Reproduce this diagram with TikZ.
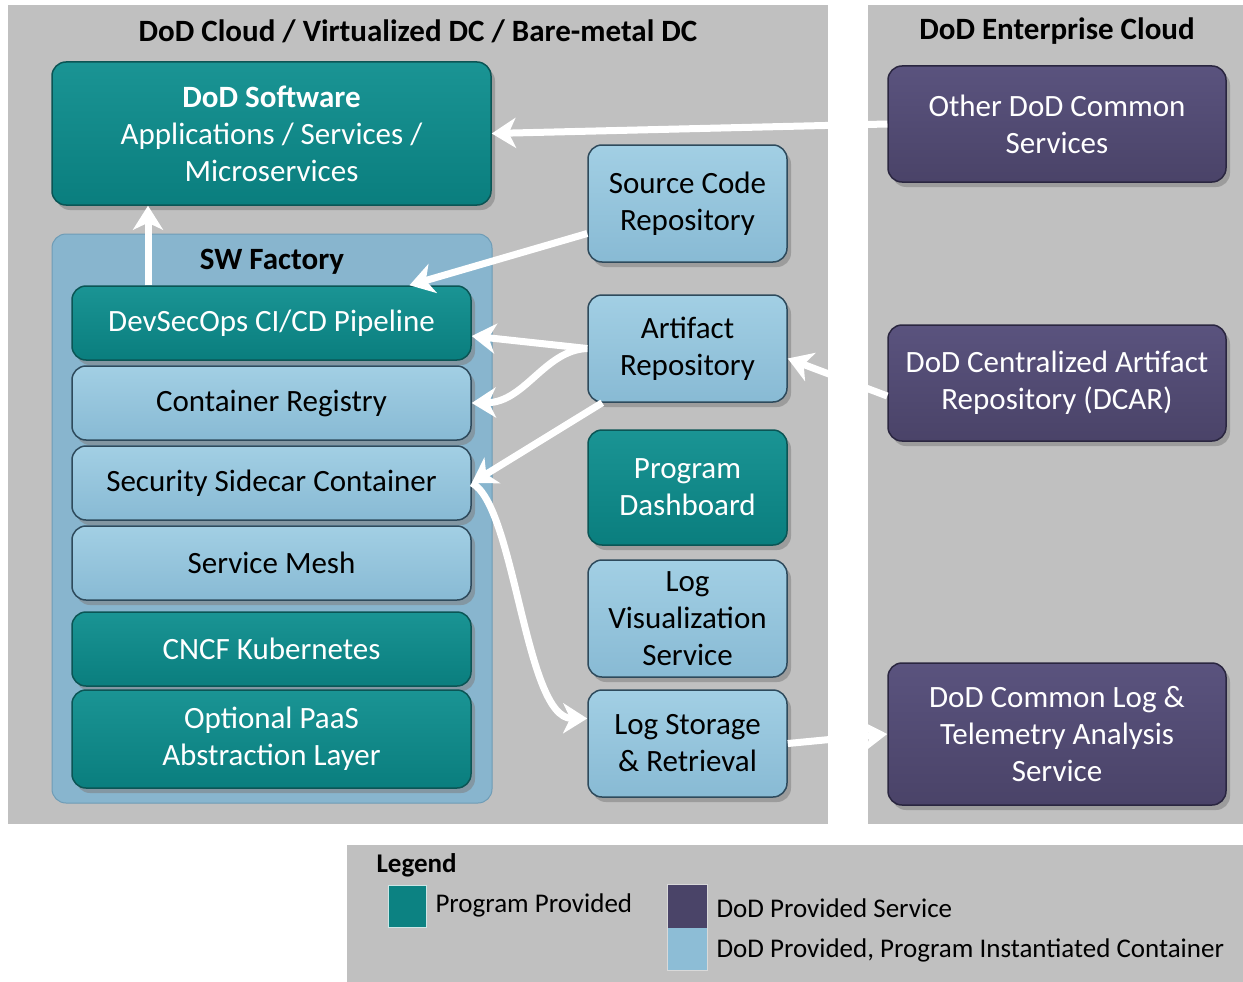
\documentclass[tikz,border=0pt]{standalone}
\usepackage{fontspec}
\setmainfont{Carlito}
\usetikzlibrary{shadows,arrows.meta,calc}
\definecolor{panel}{HTML}{C0C0C0}
\definecolor{tealT}{HTML}{1A9494}
\definecolor{tealB}{HTML}{0A7E7E}
\definecolor{tealD}{HTML}{0B5555}
\definecolor{lbT}{HTML}{A2CFE4}
\definecolor{lbB}{HTML}{88BAD4}
\definecolor{lbD}{HTML}{2E4A5C}
\definecolor{purT}{HTML}{5A537E}
\definecolor{purB}{HTML}{4A4368}
\definecolor{purD}{HTML}{2A2640}
\definecolor{fact}{HTML}{88B5CE}
\definecolor{factD}{HTML}{6E9CB6}
\definecolor{tealL}{HTML}{0C8282}
\definecolor{purL}{HTML}{4A4468}
\definecolor{lbL}{HTML}{8DBDD6}
\newcommand{\nodefont}{\fontsize{31}{37}\selectfont}
\begin{document}
\begin{tikzpicture}[x=1pt,y=-1pt,
  box/.style={rounded corners=14pt, inner sep=0pt, align=center, font=\nodefont,
    line width=1.5pt, drop shadow={shadow xshift=4pt,shadow yshift=-5pt,opacity=0.55}},
  prog/.style={box, top color=tealT, bottom color=tealB, draw=tealD, text=white},
  cont/.style={box, top color=lbT, bottom color=lbB, draw=lbD, text=black},
  dod/.style={box, top color=purT, bottom color=purB, draw=purD, text=white},
  stack/.style={minimum width=399pt, minimum height=74pt},
  side/.style={minimum width=199pt},
  ent/.style={minimum width=338pt},
  title/.style={font=\fontsize{31}{35}\selectfont\bfseries, text=black},
  warrow/.style={draw=white, line width=7pt, -{Stealth[length=24pt,width=30pt,inset=7pt]}},
  legtext/.style={font=\fontsize{27}{30}\selectfont, anchor=west, text=black}
]
\useasboundingbox (0,0) rectangle (1243,982);
\fill[white] (0,0) rectangle (1243,982);
% panels
\fill[panel] (8,5) rectangle (828,824);
\fill[panel] (868,5) rectangle (1243,824);
\fill[panel] (347,845) rectangle (1243,982);
\node[title] (t1) at (418,31) {DoD Cloud / Virtualized DC / Bare-metal DC};
\node[title] (t2) at (1057,31) {DoD Enterprise Cloud};
% SW factory container
\node[draw=factD, fill=fact, rounded corners=14pt, line width=1pt, minimum width=440pt, minimum height=569pt, inner sep=0pt] (fac) at (272,518.5) {};
\node[title] (factitle) at (272,262) {SW Factory};
% nodes
\node[prog, minimum width=439pt, minimum height=143pt] (dodsw) at (271.5,133.5)
  {\textbf{DoD Software}\\Applications / Services /\\Microservices};
\node[prog, stack] (dso) at (271.5,323) {DevSecOps CI/CD Pipeline};
\node[cont, stack] (cr) at (271.5,403) {Container Registry};
\node[cont, stack] (sc) at (271.5,483) {Security Sidecar Container};
\node[cont, stack] (mesh) at (271.5,563) {Service Mesh};
\node[prog, stack] (k8s) at (271.5,649) {CNCF Kubernetes};
\node[prog, stack, minimum height=98pt] (paas) at (271.5,739) {Optional PaaS\\Abstraction Layer};
\node[cont, side, minimum height=117pt] (src) at (687.5,203.5) {Source Code\\Repository};
\node[cont, side, minimum height=107pt] (art) at (687.5,348.5) {Artifact\\Repository};
\node[prog, side, minimum height=115pt] (dash) at (687.5,487.5) {Program\\Dashboard};
\node[cont, side, minimum height=117pt] (logvis) at (687.5,618.5) {Log\\Visualization\\Service};
\node[cont, side, minimum height=107pt] (logst) at (687.5,743.5) {Log Storage\\\& Retrieval};
\node[dod, ent, minimum height=116pt] (other) at (1057,124) {Other DoD Common\\Services};
\node[dod, ent, minimum height=116pt] (dcar) at (1057,383) {DoD Centralized Artifact\\Repository (DCAR)};
\node[dod, ent, minimum height=142pt] (logan) at (1057,734) {DoD Common Log \&\\Telemetry Analysis\\Service};
% arrows
\draw[warrow] (other.west) -- (dodsw.east);
\draw[warrow] ([xshift=-123.5pt]dso.north) -- ([xshift=-123.5pt]dodsw.south);
\draw[warrow] ([yshift=-30pt]src.west) -- ([xshift=138pt]dso.north);
\draw[warrow] (art.west) -- ([yshift=-13pt]dso.east);
\draw[warrow] (art.west) .. controls (545,350) and (525,402) .. (cr.east);
\draw[warrow] ([xshift=15pt]art.south west) -- (sc.east);
\draw[warrow] (sc.east) .. controls (515,505) and (525,718) .. ([yshift=25pt]logst.west);
\draw[warrow] (logst.east) -- (logan.west);
\draw[warrow] ([yshift=-13pt]dcar.west) -- ([yshift=-10pt]art.east);
% legend
\node[font=\fontsize{27}{30}\selectfont\bfseries, anchor=west] (legt) at (373,865) {Legend};
\node[fill=tealL, draw=white!80!tealL, line width=1pt, minimum width=38pt, minimum height=42pt, inner sep=0pt] (sw1) at (407,906) {};
\node[legtext] (l1) at (432,905) {Program Provided};
\node[fill=purL, minimum width=39pt, minimum height=43pt, inner sep=0pt] (sw2) at (687.5,906.5) {};
\node[fill=lbL, minimum width=39pt, minimum height=42pt, inner sep=0pt, anchor=north] (sw3) at (sw2.south) {};
\draw[white!85!black, line width=1pt] (sw2.north west) rectangle (sw3.south east);
\node[legtext] (l2) at (713,908) {DoD Provided Service};
\node[legtext] (l3) at (713,950) {DoD Provided, Program Instantiated Container};
\end{tikzpicture}
\end{document}
